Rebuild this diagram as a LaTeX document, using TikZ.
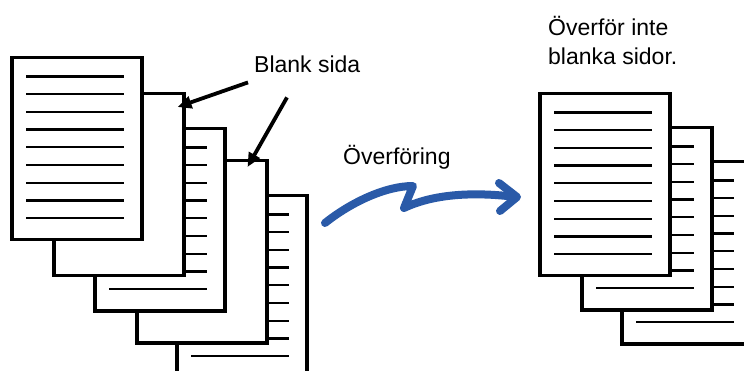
\documentclass[tikz,border=0pt]{standalone}
\usepackage{fontspec}
\setmainfont{Liberation Sans}
\usetikzlibrary{arrows.meta,positioning,calc}
\definecolor{arw}{HTML}{2A5AA8}
\tikzset{
  sheet/.style={draw,fill=white,line width=3.5pt,minimum width=130pt,minimum height=182pt,anchor=north west,inner sep=0pt},
  rule/.style={line width=2.3pt},
  lbl/.style={font=\fontsize{23}{29}\selectfont,inner sep=0pt,anchor=base west},
  pointer/.style={line width=3.8pt,-{Triangle[length=14pt,width=12pt]}},
}

\begin{document}
\begin{tikzpicture}[x=1pt,y=-1pt]
  \clip (0,0) rectangle (744,371);
  % left stack, back to front
  \foreach \px/\py/\nm/\ruled in {175/194/L5/1,135/159/L4/0,93/127/L3/1,52/92/L2/0,10/56/L1/1} {
    \node[sheet] (\nm) at (\px,\py) {};
    \ifnum\ruled=1
      \foreach \k in {0,...,8}
        \draw[rule] ($(\nm.north west)+(16,20.5+\k*17.7)$) -- ++(98,0);
    \fi}
  % right stack
  \foreach \px/\py/\nm in {620/160/R3,580/126/R2,538/92/R1} {
    \node[sheet] (\nm) at (\px,\py) {};
    \foreach \k in {0,...,8}
      \draw[rule] ($(\nm.north west)+(16,20.5+\k*17.7)$) -- ++(98,0);}
  % labels
  \node[lbl] (blank) at (254,73) {Blank sida};
  \node[lbl] (trans) at (343,165) {Överföring};
  \node[lbl] (skip1) at (548,36) {Överför inte};
  \node[lbl] (skip2) at (548,65) {blanka sidor.};
  \draw[pointer] ($(blank.south west)+(-6,9)$) -- ($(L2.north east)+(-8,15)$);
  \draw[pointer] ($(blank.south west)+(33,24)$) -- ($(L4.north east)+(-21,8)$);
  % transfer arrow
  \draw[arw,line width=8pt,line cap=round,line join=round]
    (325,223) .. controls (350,203) and (385,186) .. (413,186) -- (404,208)
    .. controls (425,198) and (460,190) .. (516,197);
  \draw[arw,line width=8pt,line cap=round,line join=round]
    (499,183) -- (517,197) -- (500,211);
\end{tikzpicture}
\end{document}
